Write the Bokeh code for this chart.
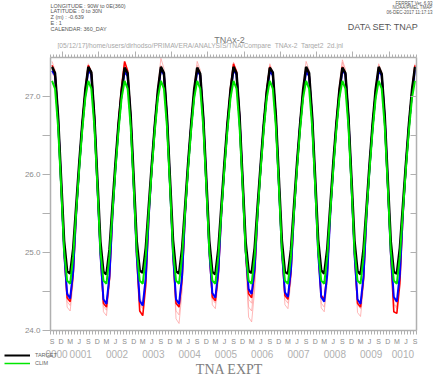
from bokeh.plotting import figure
from bokeh.layouts import column
from bokeh.models import Range1d, LinearAxis, FixedTicker, Label, Legend, LegendItem
from bokeh.embed import file_html
from bokeh.resources import INLINE

# ---------------- data ----------------
# monthly means, mid-Sep 0000 ... mid-Sep 0010 (x = months since 1 Sep 0000)
months = [i + 0.5 for i in range(121)]

target = [
    27.38, 27.30, 26.75, 25.95, 25.15, 24.76, 24.73, 25.05, 25.60, 26.15, 26.65, 27.08,
    27.38, 27.31, 26.74, 25.94, 25.14, 24.75, 24.72, 25.04, 25.61, 26.16, 26.66, 27.07,
    27.37, 27.30, 26.76, 25.96, 25.15, 24.77, 24.74, 25.06, 25.60, 26.14, 26.64, 27.08,
    27.38, 27.30, 26.75, 25.95, 25.16, 24.76, 24.73, 25.05, 25.59, 26.15, 26.65, 27.09,
    27.37, 27.29, 26.74, 25.95, 25.15, 24.75, 24.72, 25.05, 25.60, 26.15, 26.66, 27.08,
    27.38, 27.30, 26.75, 25.94, 25.14, 24.76, 24.74, 25.06, 25.61, 26.14, 26.65, 27.07,
    27.37, 27.31, 26.76, 25.95, 25.15, 24.75, 24.73, 25.04, 25.60, 26.15, 26.64, 27.08,
    27.38, 27.30, 26.75, 25.96, 25.16, 24.77, 24.73, 25.05, 25.60, 26.16, 26.65, 27.08,
    27.37, 27.30, 26.74, 25.95, 25.15, 24.76, 24.72, 25.05, 25.59, 26.15, 26.66, 27.09,
    27.38, 27.29, 26.75, 25.94, 25.14, 24.75, 24.73, 25.06, 25.60, 26.14, 26.65, 27.08,
    27.38]

clim = [
    27.20, 27.10, 26.62, 25.85, 25.02, 24.64, 24.60, 24.95, 25.52, 26.07, 26.57, 26.98,
    27.20, 27.10, 26.62, 25.85, 25.02, 24.64, 24.60, 24.95, 25.52, 26.07, 26.57, 26.98,
    27.20, 27.10, 26.62, 25.85, 25.02, 24.64, 24.60, 24.95, 25.52, 26.07, 26.57, 26.98,
    27.20, 27.10, 26.62, 25.85, 25.02, 24.64, 24.60, 24.95, 25.52, 26.07, 26.57, 26.98,
    27.20, 27.10, 26.62, 25.85, 25.02, 24.64, 24.60, 24.95, 25.52, 26.07, 26.57, 26.98,
    27.20, 27.10, 26.62, 25.85, 25.02, 24.64, 24.60, 24.95, 25.52, 26.07, 26.57, 26.98,
    27.20, 27.10, 26.62, 25.85, 25.02, 24.64, 24.60, 24.95, 25.52, 26.07, 26.57, 26.98,
    27.20, 27.10, 26.62, 25.85, 25.02, 24.64, 24.60, 24.95, 25.52, 26.07, 26.57, 26.98,
    27.20, 27.10, 26.62, 25.85, 25.02, 24.64, 24.60, 24.95, 25.52, 26.07, 26.57, 26.98,
    27.20, 27.10, 26.62, 25.85, 25.02, 24.64, 24.60, 24.95, 25.52, 26.07, 26.57, 26.98,
    27.20]

blue_run = [
    27.33, 27.27, 26.72, 25.88, 25.00, 24.47, 24.41, 24.76, 25.50, 26.10, 26.62, 27.03,
    27.34, 27.28, 26.71, 25.87, 24.98, 24.40, 24.34, 24.70, 25.48, 26.09, 26.62, 27.04,
    27.32, 27.26, 26.72, 25.86, 24.97, 24.38, 24.32, 24.68, 25.47, 26.10, 26.63, 27.03,
    27.35, 27.28, 26.73, 25.88, 24.98, 24.40, 24.34, 24.70, 25.49, 26.11, 26.62, 27.02,
    27.33, 27.27, 26.72, 25.89, 25.01, 24.48, 24.42, 24.77, 25.51, 26.10, 26.61, 27.03,
    27.34, 27.28, 26.72, 25.90, 25.03, 24.53, 24.47, 24.80, 25.52, 26.11, 26.62, 27.04,
    27.33, 27.27, 26.71, 25.88, 25.01, 24.49, 24.43, 24.78, 25.50, 26.10, 26.63, 27.03,
    27.32, 27.26, 26.72, 25.87, 24.99, 24.43, 24.37, 24.72, 25.49, 26.09, 26.62, 27.02,
    27.34, 27.28, 26.73, 25.87, 24.98, 24.40, 24.34, 24.70, 25.48, 26.10, 26.61, 27.04,
    27.33, 27.27, 26.72, 25.88, 24.99, 24.43, 24.37, 24.72, 25.49, 26.11, 26.62, 27.03,
    27.34]

red_run = [
    27.40, 27.30, 26.75, 25.90, 25.00, 24.42, 24.37, 24.72, 25.48, 26.10, 26.65, 27.08,
    27.40, 27.31, 26.76, 25.89, 24.98, 24.35, 24.30, 24.66, 25.47, 26.12, 26.68, 27.12,
    27.45, 27.33, 26.76, 25.88, 24.95, 24.25, 24.19, 24.58, 25.45, 26.08, 26.64, 27.06,
    27.38, 27.29, 26.75, 25.89, 24.98, 24.35, 24.30, 24.66, 25.47, 26.10, 26.65, 27.07,
    27.36, 27.28, 26.74, 25.90, 25.00, 24.43, 24.38, 24.73, 25.49, 26.11, 26.66, 27.10,
    27.42, 27.32, 26.76, 25.91, 25.02, 24.47, 24.42, 24.76, 25.50, 26.10, 26.65, 27.08,
    27.38, 27.29, 26.75, 25.90, 25.01, 24.45, 24.40, 24.75, 25.49, 26.10, 26.64, 27.06,
    27.36, 27.28, 26.74, 25.90, 25.01, 24.45, 24.40, 24.75, 25.49, 26.11, 26.66, 27.08,
    27.38, 27.29, 26.75, 25.89, 24.98, 24.35, 24.30, 24.66, 25.47, 26.10, 26.65, 27.08,
    27.36, 27.28, 26.74, 25.88, 24.96, 24.24, 24.22, 24.60, 25.46, 26.09, 26.64, 27.07,
    27.40]

member1 = [
    27.45, 27.34, 26.78, 25.92, 24.98, 24.30, 24.25, 24.62, 25.45, 26.10, 26.66, 27.05,
    27.35, 27.27, 26.73, 25.88, 24.95, 24.24, 24.19, 24.58, 25.44, 26.12, 26.68, 27.10,
    27.40, 27.30, 26.75, 25.90, 25.00, 24.35, 24.30, 24.66, 25.47, 26.13, 26.70, 27.14,
    27.49, 27.36, 26.79, 25.89, 24.92, 24.15, 24.09, 24.50, 25.42, 26.10, 26.68, 27.12,
    27.45, 27.34, 26.77, 25.92, 25.02, 24.40, 24.35, 24.70, 25.48, 26.09, 26.65, 27.08,
    27.40, 27.31, 26.76, 25.88, 24.93, 24.17, 24.11, 24.52, 25.43, 26.11, 26.69, 27.11,
    27.42, 27.32, 26.76, 25.90, 24.99, 24.33, 24.28, 24.64, 25.46, 26.10, 26.66, 27.06,
    27.38, 27.30, 26.75, 25.89, 24.97, 24.29, 24.24, 24.61, 25.45, 26.12, 26.69, 27.12,
    27.44, 27.33, 26.77, 25.88, 24.95, 24.23, 24.18, 24.57, 25.44, 26.11, 26.67, 27.10,
    27.42, 27.32, 26.76, 25.90, 24.99, 24.35, 24.30, 24.66, 25.47, 26.10, 26.64, 27.05,
    27.35]

member2 = [
    27.35, 27.28, 26.74, 25.89, 24.99, 24.37, 24.32, 24.68, 25.47, 26.12, 26.70, 27.13,
    27.42, 27.32, 26.76, 25.88, 24.97, 24.31, 24.26, 24.63, 25.46, 26.09, 26.63, 27.04,
    27.32, 27.26, 26.73, 25.91, 25.01, 24.41, 24.36, 24.71, 25.48, 26.11, 26.68, 27.10,
    27.40, 27.30, 26.75, 25.87, 24.94, 24.25, 24.20, 24.58, 25.44, 26.10, 26.66, 27.06,
    27.35, 27.28, 26.74, 25.89, 24.98, 24.33, 24.28, 24.65, 25.46, 26.12, 26.70, 27.14,
    27.44, 27.33, 26.77, 25.89, 24.97, 24.30, 24.25, 24.62, 25.45, 26.10, 26.64, 27.05,
    27.33, 27.27, 26.73, 25.90, 25.00, 24.40, 24.35, 24.70, 25.48, 26.12, 26.71, 27.15,
    27.45, 27.34, 26.77, 25.89, 24.98, 24.35, 24.30, 24.66, 25.46, 26.10, 26.66, 27.08,
    27.38, 27.29, 26.75, 25.88, 24.97, 24.33, 24.28, 24.65, 25.46, 26.09, 26.64, 27.06,
    27.36, 27.28, 26.74, 25.90, 25.00, 24.40, 24.35, 24.70, 25.48, 26.12, 26.69, 27.12,
    27.42]

member3 = [
    27.30, 27.24, 26.72, 25.90, 25.02, 24.50, 24.45, 24.78, 25.50, 26.12, 26.68, 27.10,
    27.38, 27.29, 26.75, 25.89, 24.99, 24.40, 24.35, 24.70, 25.48, 26.13, 26.71, 27.16,
    27.44, 27.33, 26.77, 25.88, 24.96, 24.33, 24.28, 24.64, 25.46, 26.10, 26.66, 27.08,
    27.35, 27.28, 26.74, 25.89, 24.97, 24.35, 24.30, 24.66, 25.47, 26.11, 26.68, 27.11,
    27.40, 27.31, 26.76, 25.90, 25.01, 24.45, 24.40, 24.75, 25.49, 26.10, 26.65, 27.07,
    27.35, 27.28, 26.74, 25.89, 24.99, 24.40, 24.35, 24.71, 25.48, 26.12, 26.69, 27.12,
    27.40, 27.30, 26.75, 25.90, 25.01, 24.45, 24.40, 24.75, 25.49, 26.10, 26.64, 27.05,
    27.34, 27.27, 26.74, 25.90, 25.00, 24.43, 24.38, 24.73, 25.49, 26.13, 26.72, 27.16,
    27.47, 27.35, 26.78, 25.89, 24.97, 24.35, 24.30, 24.66, 25.47, 26.10, 26.65, 27.08,
    27.40, 27.31, 26.76, 25.88, 24.96, 24.33, 24.28, 24.64, 25.46, 26.11, 26.67, 27.10,
    27.38]

y_ticks = [24.0, 25.0, 26.0, 27.0]
y_tick_labels = ["24.0", "25.0", "26.0", "27.0"]
y_minor = [24.5, 25.5, 26.5]
month_letters = ["S", "D", "M", "J"]
year_labels = ["0000", "0001", "0002", "0003", "0004", "0005",
               "0006", "0007", "0008", "0009", "0010"]
header_lines = ["LONGITUDE : 90W to 0E(360)", "LATITUDE : 0 to 30N",
                "Z (m) : -0.639", "E : 1", "CALENDAR: 360_DAY"]
ferret_lines = ["FERRET Ver. 6.93", "NOAA/PMEL TMAP", "06-DEC-2017 11:17:13"]
path_text = "[05/12/17]/home/users/dirhodso/PRIMAVERA/ANALYSIS/TNA/Compare_TNAx-2_Target2_2d.jnl"
plot_title = "TNAx-2"
dataset_text = "DATA SET: TNAP"
bottom_title = "TNA EXPT"
legend_labels = ["TARGET", "CLIM"]

# ---------------- layout ----------------
W = 434
HEAD_H, MAIN_H, FOOT_H = 49, 298, 28
FL, FR = 50, 416            # frame left/right (px)
FT, FB = 8, 283             # frame top/bottom inside main figure (px)
X0, X1 = 0.0, 121.0
Y0, Y1 = 24.0, 27.5
PPX = (FR - FL) / (X1 - X0)

AX_COL = "#b0b0b0"
TXT = "#8a8a8a"
FONT = "Liberation Sans"


def no_align(f):
    if hasattr(f, "frame_align"):
        f.frame_align = False
    return f


def blank(h, xr, yr):
    f = figure(width=W, height=h, output_backend="svg", toolbar_location=None,
               x_range=xr, y_range=yr, min_border=0,
               x_axis_location=None, y_axis_location=None)
    f.grid.visible = False
    f.outline_line_color = None
    f.background_fill_color = "white"
    f.border_fill_color = "white"
    return no_align(f)


# ---- header (pixel coordinates) ----
head = blank(HEAD_H, Range1d(0, W), Range1d(HEAD_H, 0))


def hlabel(x, y, t, size, color, align="left", font=FONT):
    head.add_layout(Label(x=x, y=y, text=t, text_align=align, text_baseline="middle",
                          text_font=font, text_font_size=size, text_color=color))


for i, t in enumerate(header_lines):
    hlabel(50, 5 + 5.8 * i, t, "5.5px", "#555555")
for i, t in enumerate(ferret_lines):
    hlabel(432, 2.5 + 4.6 * i, t, "4.5px", "#555555", align="right")
hlabel(418, 26, dataset_text, "9px", "#555555", align="right")
hlabel(57, 45, path_text, "6.7px", "#a8a8a8")
hlabel(229, 39, plot_title, "9px", "#777777", align="center")

# ---- main plot ----
p = figure(width=W, height=MAIN_H, output_backend="svg", toolbar_location=None,
           x_range=Range1d(X0, X1), y_range=Range1d(Y0, Y1),
           min_border_left=FL, min_border_right=W - FR,
           min_border_top=FT, min_border_bottom=MAIN_H - FB,
           x_axis_location=None, y_axis_location=None)
no_align(p)
p.grid.visible = False
p.outline_line_color = None
p.background_fill_color = "white"
p.border_fill_color = "white"

for m in (member1, member2, member3):
    p.line(months, m, line_color="#ff9a9a", line_width=1, line_alpha=0.7)
p.line(months, red_run, line_color="#ff0000", line_width=1.6)
p.line(months, blue_run, line_color="#0000ff", line_width=2)
p.line(months, target, line_color="#000000", line_width=2.5)
p.line(months, clim, line_color="#00e600", line_width=2)

month_bounds = list(range(0, 122))
year_bounds = [4 + 12 * k for k in range(10)]
label_pos = [0.5 + 3 * k for k in range(41)]
label_over = {pos: month_letters[k % 4] for k, pos in enumerate(label_pos)}

xb = LinearAxis(ticker=FixedTicker(ticks=label_pos, minor_ticks=month_bounds),
                major_label_overrides=label_over)
xb.major_tick_out = 0
xb.major_tick_in = 0
xb.minor_tick_out = 4
xb.minor_tick_in = 0
xb.major_label_standoff = 3
p.add_layout(xb, "below")

xt = LinearAxis(ticker=FixedTicker(ticks=year_bounds, minor_ticks=month_bounds),
                major_label_overrides={v: "" for v in year_bounds})
xt.major_tick_out = 6
xt.major_tick_in = 0
xt.minor_tick_out = 3
xt.minor_tick_in = 0
xt.major_label_text_font_size = "0px"
xt.major_label_standoff = 0
p.add_layout(xt, "above")

yl = LinearAxis(ticker=FixedTicker(ticks=y_ticks, minor_ticks=y_minor),
                major_label_overrides=dict(zip(y_ticks, y_tick_labels)))
yl.major_tick_out = 8
yl.major_tick_in = 0
yl.minor_tick_out = 8
yl.minor_tick_in = 0
yl.major_label_standoff = 2
p.add_layout(yl, "left")

yr = LinearAxis(ticker=FixedTicker(ticks=y_ticks, minor_ticks=y_minor),
                major_label_overrides={v: "" for v in y_ticks})
yr.major_tick_out = 0
yr.major_tick_in = 6
yr.minor_tick_out = 0
yr.minor_tick_in = 6
yr.major_label_text_font_size = "0px"
yr.major_label_standoff = 0
p.add_layout(yr, "right")

for a in (xb, xt, yl, yr):
    a.axis_line_color = AX_COL
    a.axis_line_width = 1.5
    a.major_tick_line_color = AX_COL
    a.minor_tick_line_color = AX_COL
    a.major_label_text_color = TXT
    a.major_label_text_font = FONT
    a.major_label_text_font_style = "normal"
xb.major_label_text_font_size = "7px"
yl.major_label_text_font_size = "8px"

# ---- footer: same x scale as the main plot, y in pixels ----
foot = blank(FOOT_H, Range1d(X0 - FL / PPX, X0 + (W - FL) / PPX), Range1d(FOOT_H, 0))
for k, lab in enumerate(year_labels):
    lo = max(X0, 12 * k - 8)
    hi = min(X1, 12 * k + 4)
    foot.add_layout(Label(x=(lo + hi) / 2, y=6, text=lab, text_align="center",
                          text_baseline="middle", text_font=FONT, text_font_size="10px",
                          text_color="#b0b0b0"))
foot.add_layout(Label(x=X0 + (229 - FL) / PPX, y=21.5, text=bottom_title,
                      text_align="center", text_baseline="alphabetic",
                      text_font="Liberation Serif", text_font_size="14px",
                      text_color="#808080"))
nan = float("nan")
lg_t = foot.line([nan], [nan], line_color="#000000", line_width=2)
lg_c = foot.line([nan], [nan], line_color="#00e600", line_width=1.5)
legend = Legend(items=[LegendItem(label=legend_labels[0], renderers=[lg_t]),
                       LegendItem(label=legend_labels[1], renderers=[lg_c])],
                location="top_left", orientation="vertical",
                glyph_width=26, glyph_height=8, label_height=8, label_width=10,
                label_standoff=5, spacing=0, padding=0, margin=4,
                label_text_font=FONT, label_text_font_size="5.5px",
                label_text_color="#666666",
                background_fill_alpha=0, border_line_color=None)
foot.add_layout(legend)

layout = column(head, p, foot, spacing=0)
open("out.html", "w").write(file_html(layout, INLINE))
